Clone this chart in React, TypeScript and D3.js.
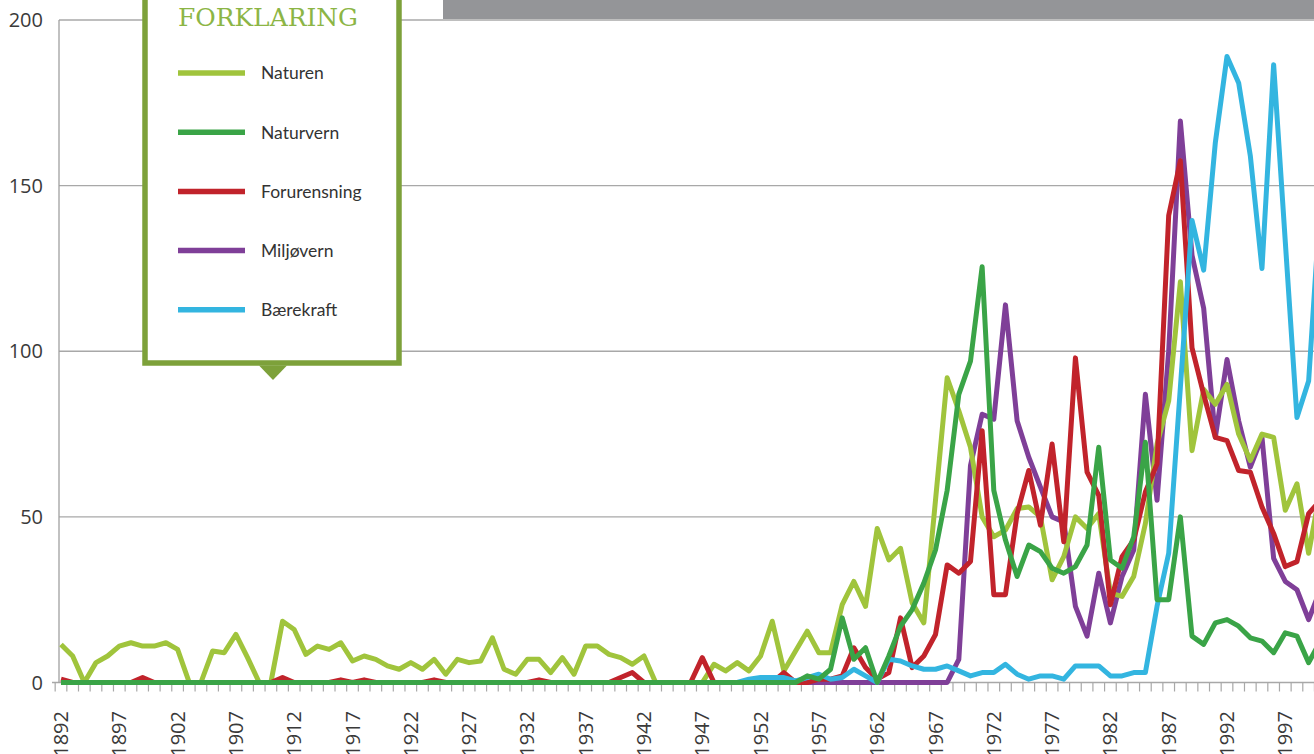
import * as d3 from "d3";

const W = 1314;
const H = 754;

// one value per year, 1892 -> 2000
const naturen = [
  11.5, 8, 0, 6, 8, 11, 12, 11, 11, 12, // 1892-1901
  10, 0, 0, 9.5, 9, 14.5, 7.5, 0, 0, 18.5, // 1902-1911
  16, 8.5, 11, 10, 12, 6.5, 8, 7, 5, 4, // 1912-1921
  6, 4, 7, 2.5, 7, 6, 6.5, 13.5, 4, 2.5, // 1922-1931
  7, 7, 3, 7.5, 2.5, 11, 11, 8.5, 7.5, 5.5, // 1932-1941
  8, 0, 0, 0, 0, 0, 5.5, 3.5, 6, 3.5, // 1942-1951
  8, 18.5, 3.5, 9.5, 15.5, 9, 9, 23.5, 30.5, 23, // 1952-1961
  46.5, 37, 40.5, 24, 18, 55, 92, 82, 71, 50, // 1962-1971
  44, 46, 52.5, 53, 50, 31, 38, 50, 46.5, 51, // 1972-1981
  27, 26, 32, 48, 72, 85, 121, 70, 88.5, 84, // 1982-1991
  90, 75, 67, 75, 74, 52, 60, 39, 58, // 1992-2000
];

const naturvern = [
  0, 0, 0, 0, 0, 0, 0, 0, 0, 0, // 1892-1901
  0, 0, 0, 0, 0, 0, 0, 0, 0, 0, // 1902-1911
  0, 0, 0, 0, 0, 0, 0, 0, 0, 0, // 1912-1921
  0, 0, 0, 0, 0, 0, 0, 0, 0, 0, // 1922-1931
  0, 0, 0, 0, 0, 0, 0, 0, 0, 0, // 1932-1941
  0, 0, 0, 0, 0, 0, 0, 0, 0, 0, // 1942-1951
  0, 0, 0, 0, 2, 1, 4, 19.5, 7, 10.5, // 1952-1961
  0, 8, 17, 22, 30, 40, 58, 87, 97, 125.5, // 1962-1971
  58, 43, 32, 41.5, 39.5, 34.5, 33, 35, 41.5, 71, // 1972-1981
  37, 34.5, 44, 72.5, 25, 25, 50, 14, 11.5, 18, // 1982-1991
  19, 17, 13.5, 12.5, 9, 15, 14, 6, 12.5, // 1992-2000
];

const forurensning = [
  1, 0, 0, 0, 0, 0, 0, 1.5, 0, 0, // 1892-1901
  0, 0, 0, 0, 0, 0, 0, 0, 0, 1.5, // 1902-1911
  0, 0, 0, 0, 0.8, 0, 0.8, 0, 0, 0, // 1912-1921
  0, 0, 0.8, 0, 0, 0, 0, 0, 0, 0, // 1922-1931
  0, 0.8, 0, 0, 0, 0, 0, 0, 1.5, 3, // 1932-1941
  0, 0, 0, 0, 0, 7.5, 0, 0, 0, 0, // 1942-1951
  0, 0, 3, 0, 0, 1, 1, 2, 10.5, 4.5, // 1952-1961
  1, 3, 19.5, 4.5, 8, 14.5, 35.5, 33, 36.5, 76, // 1962-1971
  26.5, 26.5, 51, 64, 47.5, 72, 42.5, 98, 63.5, 56.5, // 1972-1981
  23.5, 38, 43, 57.5, 66, 141, 157.5, 101, 87, 74, // 1982-1991
  73, 64, 63.5, 53, 45, 35, 36.5, 51, 55, // 1992-2000
];

// 1955 -> 2000
const miljovernStart = 1955;
const miljovern = [
  0, 0, 0, 0, 0, 0, 0, // 1955-1961
  0, 0, 0, 0, 0, 0, 0, 7, 65.5, 81, // 1962-1971
  79.5, 114, 79, 68, 59, 50, 48.5, 23, 14, 33, // 1972-1981
  18, 32, 40, 87, 55, 100, 169.5, 129, 113, 74, // 1982-1991
  97.5, 79, 65, 74, 37.5, 30.5, 28, 19, 28, // 1992-2000
];

// 1950 -> 2000
const baerekraftStart = 1950;
const baerekraft = [
  0, 1, // 1950-1951
  1.5, 1.5, 1.5, 0.5, 1.5, 2.5, 1, 1.5, 4, 2, // 1952-1961
  0, 7, 6.5, 5, 4, 4, 5, 3.5, 2, 3, // 1962-1971
  3, 5.5, 2.5, 1, 2, 2, 1, 5, 5, 5, // 1972-1981
  2, 2, 3, 3, 23, 39, 89, 139.5, 124.5, 163, // 1982-1991
  189, 181, 159, 125, 186.5, 133, 80, 91, 145, // 1992-2000
];

const yearLabels = [
  1892, 1897, 1902, 1907, 1912, 1917, 1922, 1927, 1932, 1937, 1942,
  1947, 1952, 1957, 1962, 1967, 1972, 1977, 1982, 1987, 1992, 1997,
];
const yTicks = [0, 50, 100, 150, 200];

const series = [
  { name: "Naturen", color: "#a0c43c", start: 1892, values: naturen },
  { name: "Naturvern", color: "#3aa447", start: 1892, values: naturvern },
  { name: "Forurensning", color: "#c1232b", start: 1892, values: forurensning },
  { name: "Miljøvern", color: "#7f3f98", start: miljovernStart, values: miljovern },
  { name: "Bærekraft", color: "#33b5e0", start: baerekraftStart, values: baerekraft },
];

// bottom -> top
const drawOrder = ["Miljøvern", "Naturen", "Forurensning", "Bærekraft", "Naturvern"];

const legendGreen = "#7da13a";

export default function App() {
  const x = d3.scaleLinear().domain([1892, 1992]).range([61, 1227]);
  const y = d3.scaleLinear().domain([0, 200]).range([682.5, 20]);
  const step = x(1893) - x(1892);

  const line = d3
    .line<[number, number]>()
    .x((d) => x(d[0]))
    .y((d) => y(d[1]));

  const tickYears = d3.range(1892, 2003);
  const axisLeft = 59;

  return (
    <svg
      width={W}
      height={H}
      style={{ position: "absolute", left: 0, top: 0, background: "#fff" }}
    >
      {/* grey band at top */}
      <rect x={443} y={0} width={W - 443} height={19} fill="#949598" />

      {/* gridlines */}
      {yTicks.map((t) => (
        <line
          key={t}
          x1={t === 0 ? 52 : axisLeft}
          x2={W}
          y1={y(t)}
          y2={y(t)}
          stroke="#a8a8a8"
          strokeWidth={1.3}
        />
      ))}
      <line x1={axisLeft} x2={axisLeft} y1={y(200)} y2={y(0)} stroke="#a0a0a0" strokeWidth={1.3} />

      {/* x ticks */}
      {tickYears.map((yr) => (
        <line
          key={yr}
          x1={x(yr) - step / 2}
          x2={x(yr) - step / 2}
          y1={y(0)}
          y2={y(0) + 9}
          stroke="#a8a8a8"
          strokeWidth={1.2}
        />
      ))}

      {/* y labels */}
      {yTicks.map((t) => (
        <text
          key={t}
          x={43}
          y={y(t)}
          dy="0.36em"
          textAnchor="end"
          fontFamily="'Open Sans', sans-serif"
          fontSize={20}
          fill="#3a3a3a"
        >
          {t}
        </text>
      ))}

      {/* x labels */}
      {yearLabels.map((yr) => (
        <text
          key={yr}
          transform={`translate(${x(yr) + 7},711) rotate(-90)`}
          textAnchor="end"
          fontFamily="'Open Sans', sans-serif"
          fontSize={20}
          fill="#3a3a3a"
        >
          {yr}
        </text>
      ))}

      {/* lines */}
      {drawOrder.map((name) => {
        const s = series.find((d) => d.name === name)!;
        const pts = s.values.map((v, i) => [s.start + i, v] as [number, number]);
        return (
          <path
            key={name}
            d={line(pts) || ""}
            fill="none"
            stroke={s.color}
            strokeWidth={5}
            strokeLinejoin="round"
          />
        );
      })}

      {/* legend */}
      <g>
        <rect x={145} y={-10} width={254} height={373} fill="#fff" stroke={legendGreen} strokeWidth={5.5} />
        <path d="M259,365.5 L287,365.5 L273,380 Z" fill={legendGreen} />
        <text
          x={178}
          y={26}
          fontFamily="'DejaVu Serif', serif"
          fontSize={25}
          fill="#8cb545"
          textLength={180}
          lengthAdjust="spacingAndGlyphs"
        >
          FORKLARING
        </text>
        {series.map((s, i) => {
          const ly = 73 + i * 59.2;
          return (
            <g key={s.name}>
              <line x1={178} x2={245} y1={ly} y2={ly} stroke={s.color} strokeWidth={5.5} />
              <text
                x={261}
                y={ly}
                dy="0.36em"
                fontFamily="Lato, sans-serif"
                fontSize={17.5}
                fill="#333"
              >
                {s.name}
              </text>
            </g>
          );
        })}
      </g>
    </svg>
  );
}
